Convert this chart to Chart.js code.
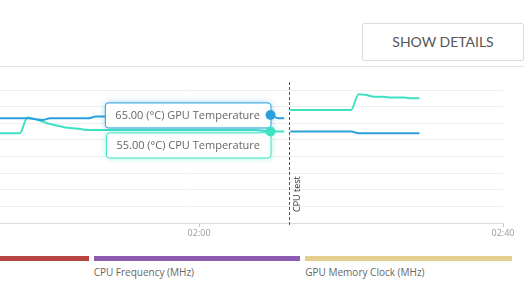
<!DOCTYPE html>
<html>
<head>
<meta charset="utf-8">
<script src="https://cdn.jsdelivr.net/npm/chart.js@4.4.1/dist/chart.umd.min.js"></script>
<style>
  body { margin: 0; width: 524px; height: 285px; overflow: hidden; background: #fff; position: relative; font-family: 'Open Sans', sans-serif; }
  .btn { position: absolute; left: 362px; top: 23px; width: 160px; height: 36px; border: 1px solid #dcdcdc; border-radius: 2px;
         font-family: Lato, sans-serif; font-size: 14px; color: #555; line-height: 36px; text-align: center; }
  .divider { position: absolute; left: 0; right: 0; top: 66px; border-top: 1px solid #e2e2e2; }
  #chartWrap { position: absolute; left: -160px; top: 72px; width: 684px; height: 171px; }
  #legend { position: absolute; left: -118px; top: 256px; width: 630px; display: grid; grid-template-columns: repeat(3, 1fr); column-gap: 5px; }
  .legend-item .bar { height: 5px; }
  .legend-item .txt { font-size: 10px; color: #666; margin-top: 5px; line-height: 12px; white-space: nowrap; }
</style>
</head>
<body>
<div class="btn">SHOW DETAILS</div>
<div class="divider"></div>
<div id="chartWrap"><canvas id="chart"></canvas></div>
<div id="legend"></div>

<script>
// temps in °C, time in seconds since start
const seconds = [93.4, 94.4, 95.4, 96.4, 97.4, 98.4, 99.4, 100.4, 101.4, 102.4, 103.4, 104.4, 105.4, 106.4, 107.4,
                 108.4, 110.4, 112.4, 114.4, 116.4, 118.4, 120.4, 122.4, 124.4, 126.4, 127.4, 128.4, 129.4, 130.4, 131.2,
                 131.6,
                 132, 133, 134, 135, 136, 137, 138, 139, 140, 141, 142, 143, 144, 145, 146, 147, 148, 149];
const gpuTemp = [63, 63, 63, 63, 63, 62.5, 62, 63, 63, 63, 63, 63, 63, 64, 64,
                 64, 64, 64, 64, 64, 64, 64, 64, 65, 65, 65, 65, 65, 63, 63,
                 null,
                 55, 55, 55, 55, 55, 55, 55, 55, 55, 54, 54, 54, 54, 54, 54, 54, 54, 54];
const cpuTemp = [54, 54, 54, 54, 63.5, 62.5, 61, 59.5, 58.5, 57.5, 57, 56.5, 56, 56, 56,
                 56, 56, 56, 56, 56, 56, 56, 56, 56, 56, 56, 55.5, 55, 55, 55,
                 null,
                 68, 68, 68, 68, 68, 68, 68, 68, 68, 77.5, 77, 76, 76, 75.5, 75.5, 75.5, 75, 75];
const hoverIndex = 27;

const markerTimes = [131.8];
const markerLabels = ['CPU test'];

const xTicks = [80, 120, 160];

const legendLabels = ['GPU Power (W)', 'CPU Frequency (MHz)', 'GPU Memory Clock (MHz)'];
const legendColors = ['#b94444', '#8c5cb1', '#e5cf8d'];

const blue = '#2ba0da';
const teal = '#3ee2c3';

function mmss(v) {
    let m = Math.floor(v / 60), s = Math.round(v % 60);
    return String(m).padStart(2, '0') + ':' + String(s).padStart(2, '0');
}

// legend
let legend = document.getElementById('legend');
legendLabels.forEach((lab, i) => {
    let item = document.createElement('div');
    item.className = 'legend-item';
    item.innerHTML = '<div class="bar" style="background:' + legendColors[i] + '"></div><div class="txt">' + lab + '</div>';
    legend.appendChild(item);
});

// annotation + hover boxes
const overlay = {
    id: 'overlay',
    afterDatasetsDraw(chart) {
        let ctx = chart.ctx, area = chart.chartArea, xs = chart.scales.x;
        ctx.save();
        markerTimes.forEach((t, i) => {
            let x = Math.round(xs.getPixelForValue(t)) + 0.5;
            ctx.strokeStyle = '#555';
            ctx.lineWidth = 1;
            ctx.setLineDash([3, 2]);
            ctx.beginPath();
            ctx.moveTo(x, area.top - 8);
            ctx.lineTo(x, area.bottom + 4);
            ctx.stroke();
            ctx.setLineDash([]);
            ctx.save();
            ctx.translate(x + 8, area.bottom - 11);
            ctx.rotate(-Math.PI / 2);
            ctx.fillStyle = '#333';
            ctx.font = '9px "Open Sans"';
            ctx.textAlign = 'left';
            ctx.textBaseline = 'middle';
            ctx.fillText(markerLabels[i], 0, 0);
            ctx.restore();
        });

        let prevBottom = -Infinity;
        let pts = [];
        chart.data.datasets.forEach((ds, di) => {
            let el = chart.getDatasetMeta(di).data[hoverIndex];
            let text = ds.data[hoverIndex].y.toFixed(2) + ' (°C) ' + ds.label;
            ctx.font = '11px "Open Sans"';
            let w = ctx.measureText(text).width + 21, h = 25;
            let top = Math.max(el.y - h / 2, prevBottom + 5);
            let left = el.x - w;
            prevBottom = top + h;
            ctx.save();
            ctx.shadowColor = ds.borderColor + '88';
            ctx.shadowBlur = 6;
            ctx.fillStyle = '#fff';
            ctx.beginPath();
            ctx.roundRect(left + 0.5, top + 0.5, w, h, 3);
            ctx.fill();
            ctx.restore();
            ctx.strokeStyle = ds.borderColor;
            ctx.lineWidth = 1;
            ctx.stroke();
            ctx.fillStyle = '#666';
            ctx.textAlign = 'center';
            ctx.textBaseline = 'middle';
            ctx.fillText(text, left + w / 2, top + h / 2 + 1);
            pts.push([el.x, el.y, ds.borderColor]);
        });
        pts.forEach(p => {
            ctx.fillStyle = p[2];
            ctx.beginPath();
            ctx.arc(p[0], p[1], 5, 0, Math.PI * 2);
            ctx.fill();
        });
        ctx.restore();
    }
};

new Chart(document.getElementById('chart'), {
    type: 'line',
    data: {
        datasets: [{
            label: 'GPU Temperature',
            data: seconds.map((t, i) => ({ x: t, y: gpuTemp[i] })),
            borderColor: blue,
            borderWidth: 2,
            pointRadius: 0,
            cubicInterpolationMode: 'monotone',
            spanGaps: false
        }, {
            label: 'CPU Temperature',
            data: seconds.map((t, i) => ({ x: t, y: cpuTemp[i] })),
            borderColor: teal,
            borderWidth: 2,
            pointRadius: 0,
            cubicInterpolationMode: 'monotone',
            spanGaps: false
        }]
    },
    options: {
        responsive: true,
        maintainAspectRatio: false,
        animation: false,
        events: [],
        layout: { padding: { top: 18, right: 21, left: 0, bottom: 0 } },
        plugins: { legend: { display: false }, tooltip: { enabled: false } },
        scales: {
            x: {
                type: 'linear',
                min: 78,
                max: 160,
                afterBuildTicks: s => { s.ticks = xTicks.map(v => ({ value: v })); },
                afterFit: s => { s.height = 20; },
                ticks: { callback: v => mmss(v), font: { size: 9, family: 'Open Sans' }, color: '#999', padding: 1, maxRotation: 0 },
                grid: { drawOnChartArea: false, tickLength: 4, color: '#c8c8c8' },
                border: { color: '#dcdcdc' }
            },
            y: {
                min: 0,
                max: 80,
                afterFit: s => { s.width = 40; },
                ticks: { stepSize: 10, font: { size: 9, family: 'Open Sans' }, color: '#999' },
                grid: { color: '#efefef', drawTicks: false },
                border: { display: false }
            }
        }
    },
    plugins: [overlay]
});
</script>
</body>
</html>
